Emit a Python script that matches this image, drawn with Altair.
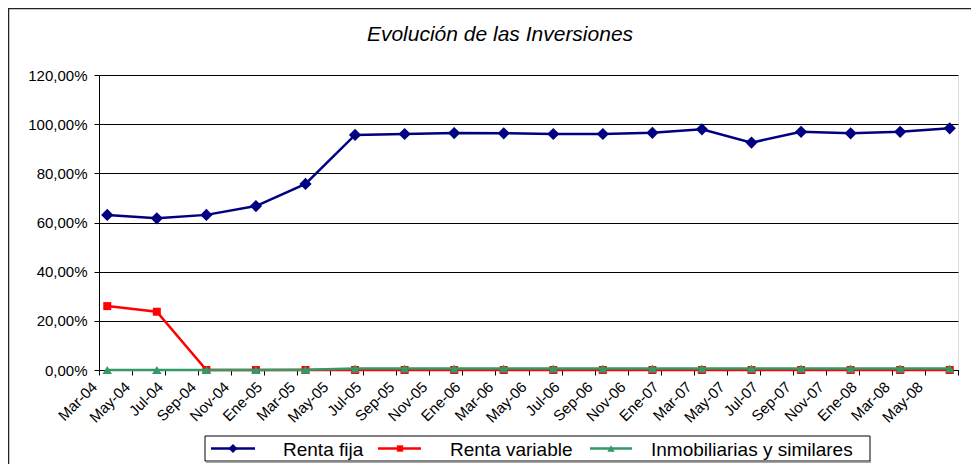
import altair as alt
import pandas as pd

# ---------------- data ----------------
fechas = ["2004-03", "2004-06", "2004-09", "2004-12", "2005-03", "2005-06",
          "2005-09", "2005-12", "2006-03", "2006-06", "2006-09", "2006-12",
          "2007-03", "2007-06", "2007-09", "2007-12", "2008-03", "2008-06"]
renta_fija = [0.631, 0.617, 0.631, 0.667, 0.757, 0.956, 0.960, 0.964, 0.963,
              0.960, 0.960, 0.965, 0.979, 0.925, 0.969, 0.963, 0.969, 0.983]
renta_variable = [0.260, 0.237, 0.0, 0.0, 0.0, 0.0, 0.0, 0.0, 0.0,
                  0.0, 0.0, 0.0, 0.0, 0.0, 0.0, 0.0, 0.0, 0.0]
inmobiliarias = [0.0, 0.0, 0.0, 0.0, 0.001, 0.006, 0.006, 0.006, 0.006,
                 0.006, 0.006, 0.006, 0.006, 0.006, 0.006, 0.006, 0.006, 0.006]
series = ["Renta fija", "Renta variable", "Inmobiliarias y similares"]
etiquetas_x = ["Mar-04", "May-04", "Jul-04", "Sep-04", "Nov-04", "Ene-05",
               "Mar-05", "May-05", "Jul-05", "Sep-05", "Nov-05", "Ene-06",
               "Mar-06", "May-06", "Jul-06", "Sep-06", "Nov-06", "Ene-07",
               "Mar-07", "May-07", "Jul-07", "Sep-07", "Nov-07", "Ene-08",
               "Mar-08", "May-08"]
valores_y = [0.0, 0.2, 0.4, 0.6, 0.8, 1.0, 1.2]
titulo = "Evolución de las Inversiones"

# ---------------- styles / layout ----------------
colores = ["#000080", "#FF0000", "#339966"]
formas = ["diamond", "square", "triangle-up"]
tamanos = [150, 64, 90]
tamanos_leyenda = [80, 40, 55]
FONT = "Liberation Sans"
W, H = 859, 295
PAD_L, PAD_T = 91, 67
TOTAL_W, TOTAL_H = 963, 456
# legend layout (plot-area pixel coordinates)
leg_x1 = [112, 279, 491]
leg_x2 = [156, 322, 533]
leg_xm = [134, 301, 512]
leg_xt = [184, 351, 552]
leg_y = 373.5


def mes_indice(f):
    y, m = f.split("-")
    return (int(y) - 2004) * 12 + (int(m) - 3) + 0.5


valores = [renta_fija, renta_variable, inmobiliarias]
n_meses = 2 * len(etiquetas_x)
x_scale = alt.Scale(domain=[0, n_meses], nice=False, zero=False)
y_scale = alt.Scale(domain=[0, 1.2], nice=False)

labels_js = "[" + ",".join("'%s'" % e for e in etiquetas_x) + "]"
x_axis = alt.Axis(
    values=list(range(0, n_meses + 1, 2)),
    labelExpr=f"datum.value/2 < {len(etiquetas_x)} ? {labels_js}[datum.value/2] : ''",
    labelAngle=-45, labelAlign="right", labelBaseline="middle",
    grid=False, title=None, tickSize=5, labelPadding=9, labelOffset=-5,
    labelFontSize=15, labelOverlap=False, labelFont=FONT, labelColor="black",
    domainColor="black", tickColor="black",
)
y_axis = alt.Axis(
    values=valores_y,
    labelExpr="replace(format(datum.value, '.2%'), '.', ',')",
    grid=True, gridColor="black", gridOpacity=1, gridWidth=1,
    title=None, tickSize=5, labelPadding=7, labelFontSize=15,
    labelFont=FONT, labelColor="black", domainColor="black", tickColor="black",
)

layers = []
for i, nombre in enumerate(series):
    df = pd.DataFrame({
        "mes": [mes_indice(f) for f in fechas],
        "valor": valores[i],
        "serie": nombre,
    })
    base = alt.Chart(df)
    enc_x = alt.X("mes:Q", scale=x_scale, axis=x_axis)
    enc_y = alt.Y("valor:Q", scale=y_scale, axis=y_axis)
    layers.append(base.mark_line(color=colores[i], strokeWidth=2.5).encode(x=enc_x, y=enc_y))
    layers.append(base.mark_point(color=colores[i], filled=True, opacity=1,
                                  shape=formas[i], size=tamanos[i]).encode(x=enc_x, y=enc_y))

# title
layers.append(
    alt.Chart(pd.DataFrame({"t": [titulo]})).mark_text(
        font=FONT, fontSize=21, fontStyle="italic", color="black",
        align="center", baseline="alphabetic"
    ).encode(x=alt.value(401), y=alt.value(-34), text="t:N")
)

# outer chart border (left & top)
one = pd.DataFrame({"a": [0]})
layers.append(alt.Chart(one).mark_rule(color="#222", strokeWidth=1.5).encode(
    x=alt.value(-90.5), y=alt.value(-67), y2=alt.value(TOTAL_H - PAD_T)))
layers.append(alt.Chart(one).mark_rule(color="#222", strokeWidth=1.5).encode(
    x=alt.value(-91), x2=alt.value(TOTAL_W - PAD_L), y=alt.value(-66.5)))

# legend box
layers.append(alt.Chart(one).mark_rect(fill="white", stroke="black", strokeWidth=1).encode(
    x=alt.value(106), x2=alt.value(771), y=alt.value(361), y2=alt.value(386)))
layers.append(alt.Chart(one).mark_rule(color="#888", strokeWidth=1.5).encode(
    x=alt.value(107), x2=alt.value(772), y=alt.value(387)))

leg = pd.DataFrame({
    "serie": series, "color": colores, "forma": formas, "tam": tamanos_leyenda,
    "x1": leg_x1, "x2": leg_x2, "xm": leg_xm, "xt": leg_xt,
})
lb = alt.Chart(leg)
layers.append(lb.mark_rule(strokeWidth=2.5).encode(
    x=alt.X("x1:Q", scale=None), x2="x2:Q", y=alt.value(leg_y),
    color=alt.Color("color:N", scale=None)))
layers.append(lb.mark_point(filled=True, opacity=1).encode(
    x=alt.X("xm:Q", scale=None), y=alt.value(leg_y),
    color=alt.Color("color:N", scale=None),
    shape=alt.Shape("forma:N", scale=None),
    size=alt.Size("tam:Q", scale=None)))
layers.append(lb.mark_text(font=FONT, fontSize=19, align="left", baseline="middle",
                           color="black").encode(
    x=alt.X("xt:Q", scale=None), y=alt.value(leg_y + 1), text="serie:N"))

chart = alt.layer(*layers).properties(
    width=W, height=H,
    autosize=alt.AutoSizeParams(type="none"),
    padding={"left": PAD_L, "top": PAD_T,
             "right": TOTAL_W - PAD_L - W, "bottom": TOTAL_H - PAD_T - H},
).configure_view(strokeWidth=0).configure_axis(
    domainWidth=1,
).configure(background="white")

chart.save("out.html", embed_options={"renderer": "svg", "actions": False})
